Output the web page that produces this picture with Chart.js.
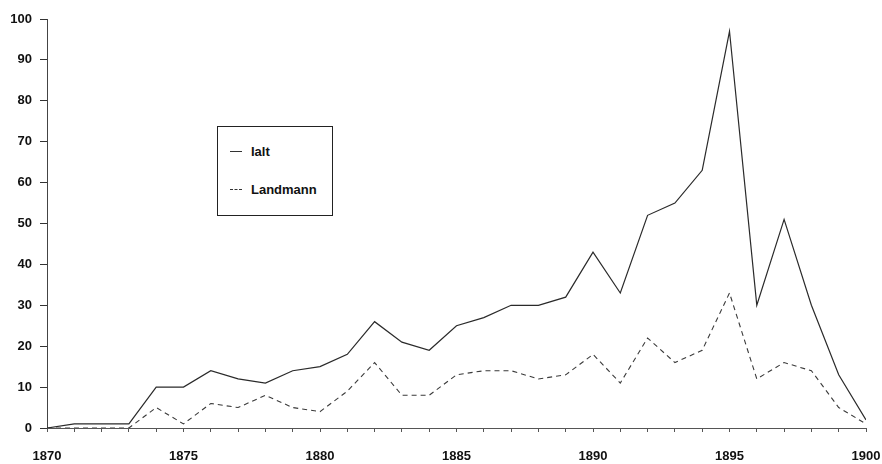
<!DOCTYPE html>
<html>
<head>
<meta charset="utf-8">
<script src="https://cdn.jsdelivr.net/npm/chart.js@4.4.1/dist/chart.umd.min.js"></script>
<style>
  html, body { margin: 0; padding: 0; background: #fff; }
  #wrap { position: relative; width: 882px; height: 464px; }
  #legend {
    position: absolute; left: 217px; top: 126px; width: 114px; height: 88px;
    border: 1px solid #222; background: #fff;
    font-family: "Liberation Sans", Arial, sans-serif; font-size: 13px; font-weight: bold; color: #111;
  }
  .item { position: absolute; left: 12px; display: flex; align-items: center; }
  .swatch { width: 12px; height: 0; margin-right: 9px; }
</style>
</head>
<body>
<div id="wrap">
  <canvas id="c" width="882" height="464"></canvas>
  <div id="legend"></div>
</div>
<script>
const years = [1870,1871,1872,1873,1874,1875,1876,1877,1878,1879,1880,1881,1882,1883,1884,1885,1886,1887,1888,1889,1890,1891,1892,1893,1894,1895,1896,1897,1898,1899,1900];
const ialt = [0,1,1,1,10,10,14,12,11,14,15,18,26,21,19,25,27,30,30,32,43,33,52,55,63,97,30,51,30,13,2];
const landmann = [0,0,0,0,5,1,6,5,8,5,4,9,16,8,8,13,14,14,12,13,18,11,22,16,19,33,12,16,14,5,1];
const seriesNames = ["Ialt", "Landmann"];
const yTicks = [0,10,20,30,40,50,60,70,80,90,100];
const xLabelYears = [1870,1875,1880,1885,1890,1895,1900];

const font = { family: '"Liberation Sans", Arial, sans-serif', size: 13, weight: 'bold' };

const chart = new Chart(document.getElementById('c'), {
  type: 'line',
  data: {
    datasets: [
      { label: seriesNames[0], data: years.map((y,i)=>({x:y, y:ialt[i]})),
        borderColor: '#2a2a2a', borderWidth: 1.2, pointRadius: 0, tension: 0 },
      { label: seriesNames[1], data: years.map((y,i)=>({x:y, y:landmann[i]})),
        borderColor: '#3a3a3a', borderWidth: 1.1, borderDash: [5,4], pointRadius: 0, tension: 0 }
    ]
  },
  options: {
    responsive: false,
    animation: false,
    layout: { padding: { top: 19, right: 16, left: 0, bottom: 0 } },
    plugins: { legend: { display: false }, tooltip: { enabled: false } },
    scales: {
      x: {
        type: 'linear', min: 1870, max: 1900,
        afterFit: s => { s.height = 36; s.paddingLeft = 0; s.paddingRight = 0; },
        afterBuildTicks: s => { s.ticks = years.map(v => ({ value: v })); },
        ticks: {
          autoSkip: false, maxRotation: 0, color: '#111', font: font, padding: 17,
          callback: v => xLabelYears.includes(v) ? String(v) : ''
        },
        grid: { drawOnChartArea: false, tickLength: 4, color: '#555', lineWidth: 1 },
        border: { display: true, color: '#555', width: 1, dash: [12,3] }
      },
      y: {
        min: 0, max: 100,
        afterFit: s => { s.width = 47; s.paddingTop = 0; s.paddingBottom = 0; },
        afterBuildTicks: s => { s.ticks = yTicks.map(v => ({ value: v })); },
        ticks: { color: '#111', font: font, padding: 8 },
        grid: { drawOnChartArea: false, tickLength: 7, color: '#333', lineWidth: 1 },
        border: { display: true, color: '#444', width: 1 }
      }
    }
  }
});

// HTML legend built from datasets
const lg = document.getElementById('legend');
chart.data.datasets.forEach((ds, i) => {
  const it = document.createElement('div');
  it.className = 'item';
  it.style.top = (i === 0 ? 17 : 55) + 'px';
  const sw = document.createElement('span');
  sw.className = 'swatch';
  sw.style.borderTop = '1px ' + (ds.borderDash ? 'dashed' : 'solid') + ' #333';
  const tx = document.createElement('span');
  tx.textContent = ds.label;
  it.appendChild(sw); it.appendChild(tx);
  lg.appendChild(it);
});
</script>
</body>
</html>
